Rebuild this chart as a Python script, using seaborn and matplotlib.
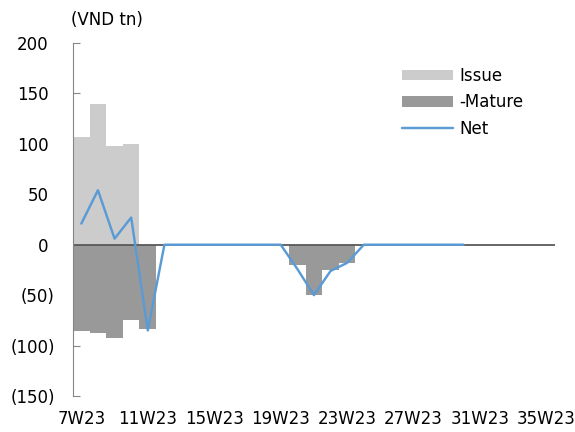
import numpy as np
import pandas as pd
import matplotlib
matplotlib.use("Agg")
import matplotlib.pyplot as plt
import matplotlib.transforms as mtransforms
import seaborn as sns
from matplotlib.ticker import FuncFormatter

# weekly data, 7W23 .. 35W23
weeks = [f"{w}W23" for w in range(7, 36)]
issue = [107, 140, 98, 100, 0, 0, 0, 0, 0, 0, 0, 0, 0, 0, 0, 0, 0,
         0, 0, 0, 0, 0, 0, 0] + [np.nan] * 5
mature = [-86, -88, -92, -75, -84, 0, 0, 0, 0, 0, 0, 0, 0, -20, -50, -25, -18,
          0, 0, 0, 0, 0, 0, 0] + [np.nan] * 5
net = [21, 54, 6, 27, -85, 0, 0, 0, 0, 0, 0, 0, 0, -24, -50, -26, -18,
       0, 0, 0, 0, 0, 0, 0] + [np.nan] * 5
tick_weeks = ["7W23", "11W23", "15W23", "19W23", "23W23", "27W23", "31W23", "35W23"]

df = pd.DataFrame({"week": weeks, "issue": issue, "mature": mature, "net": net})
df["pos"] = np.arange(len(df))

FS = 12
sns.set_style("white")
plt.rcParams["font.family"] = ["DejaVu Sans"]
plt.rcParams["font.size"] = FS
plt.rcParams["text.color"] = "black"
plt.rcParams["xtick.color"] = "black"
plt.rcParams["ytick.color"] = "black"

fig = plt.figure(figsize=(5.75, 4.32), dpi=100)
ax = fig.add_axes([0.127, 0.0833, 0.838, 0.8172])

sns.barplot(x="week", y="issue", data=df, order=weeks, color="#CCCCCC",
            width=1, linewidth=0, saturation=1, label="Issue", ax=ax)
sns.barplot(x="week", y="mature", data=df, order=weeks, color="#999999",
            width=1, linewidth=0, saturation=1, label="-Mature", ax=ax)
ax.axhline(0, color="#595959", lw=1.3, zorder=2)
sns.lineplot(x="pos", y="net", data=df, color="#5B9BD5", lw=1.75, label="Net", ax=ax, zorder=3)

ax.set_xlim(-0.5, len(weeks) - 0.5)
ax.set_ylim(-150, 200)
ax.set_yticks(np.arange(-150, 201, 50))
ax.yaxis.set_major_formatter(FuncFormatter(lambda v, p: f"({abs(int(v))})" if v < 0 else f"{int(v)}"))
ax.set_xticks([weeks.index(w) for w in tick_weeks])
ax.set_xticklabels(tick_weeks)
ax.set_xlabel("")
ax.set_ylabel("")
ax.tick_params(axis="y", left=True, direction="in", length=5, width=0.8, color="#868686",
               labelcolor="black", pad=13, labelsize=FS)
ax.tick_params(axis="x", bottom=False, length=0, pad=10, labelcolor="black", labelsize=FS)
for s in ["top", "right", "bottom"]:
    ax.spines[s].set_visible(False)
ax.spines["left"].set_color("#868686")
ax.spines["left"].set_linewidth(0.8)

# accounting style: non-negative labels leave room for the closing paren
fig.canvas.draw()
shift = mtransforms.ScaledTranslation(-6.5 / 100, 0, fig.dpi_scale_trans)
for lab, v in zip(ax.get_yticklabels(), ax.get_yticks()):
    if v >= 0:
        lab.set_transform(lab.get_transform() + shift)

handles, labels = ax.get_legend_handles_labels()
order = [labels.index(n) for n in ["Issue", "-Mature", "Net"]]
leg = ax.legend([handles[i] for i in order], [labels[i] for i in order],
                loc="upper left", bbox_to_anchor=(387 / 575, 1 - 52 / 432),
                bbox_transform=fig.transFigure, frameon=False,
                handlelength=3.06, handleheight=0.6, handletextpad=0.36,
                labelspacing=0.5, fontsize=FS)
for t in leg.get_texts():
    t.set_color("black")

fig.text(71 / 575, 1 - 20 / 432, "(VND tn)", ha="left", va="center", fontsize=FS, color="black")

fig.savefig("out.png", dpi=100)
